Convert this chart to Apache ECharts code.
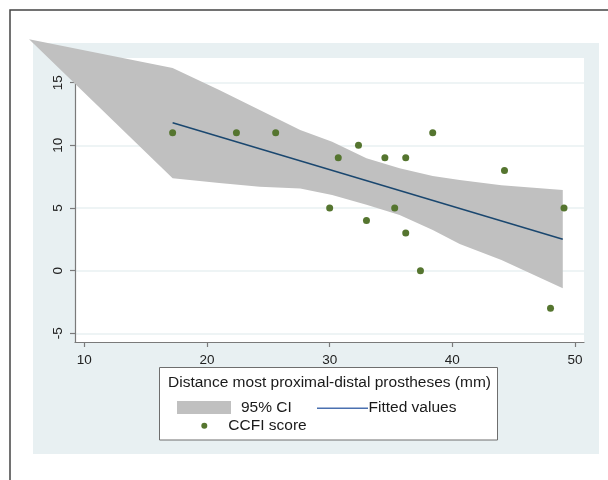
<!DOCTYPE html>
<html>
<head>
<meta charset="utf-8">
<script src="https://cdn.jsdelivr.net/npm/echarts@6/dist/echarts.min.js"></script>
<style>html,body{margin:0;padding:0;background:#fff;}#chart{width:608px;height:480px;}</style>
</head>
<body>
<div id="chart"></div>
<script>
// CCFI score scatter points [distance mm, score]
var distance = [17.2, 22.4, 25.6, 30.0, 30.7, 32.35, 33.0, 34.5, 35.3, 36.2, 36.2, 37.4, 38.4, 44.25, 48.0, 49.1];
var ccfi     = [11,   11,   11,   5,    9,    10,    4,    9,    5,    9,    3,    0,    11,   8,     -3,   5];
// Fitted values line end points
var fitX = [17.2, 49.0];
var fitY = [11.8, 2.5];
// 95% CI band (as drawn in reference)
var bandX     = [5.5,   17.2,  21.0,  24.3,  27.6,  30.2,  33.0, 35.7, 38.4, 40.6, 44.0, 49.0];
var bandUpper = [18.46, 16.17, 14.42, 12.82, 11.22, 10.29, 8.97, 8.17, 7.55, 7.24, 6.82, 6.44];
var bandLower = [18.46, 7.37,  7.0,   6.7,   6.55,  6.04,  5.25, 4.44, 3.24, 2.12, 0.85, -1.41];
// Tick labels
var xTicks = [10, 20, 30, 40, 50];
var yTicks = [-5, 0, 5, 10, 15];
var xTitle = 'Distance most proximal-distal prostheses (mm)';
var legendNames = ['95% CI', 'Fitted values', 'CCFI score'];

var FONT = '"Liberation Sans", Arial, sans-serif';
var chart = echarts.init(document.getElementById('chart'), null, {renderer: 'canvas'});

var scatterData = distance.map(function (d, i) { return [d, ccfi[i]]; });
var fitData = fitX.map(function (d, i) { return [d, fitY[i]]; });

var option = {
  backgroundColor: '#ffffff',
  animation: false,
  grid: {
    left: 75, right: 24, top: 58, bottom: 138,
    show: true, backgroundColor: '#ffffff', borderWidth: 0, z: -2
  },
  xAxis: {
    type: 'value', min: 9.243, max: 50.73, z: 0,
    name: xTitle, nameLocation: 'middle', nameGap: 33,
    nameTextStyle: {fontFamily: FONT, fontSize: 15.5, color: '#1a1a1a'},
    axisLine: {show: true, onZero: false, lineStyle: {color: '#7a7a7a', width: 1.2}},
    axisTick: {show: true, length: 5, customValues: xTicks, lineStyle: {color: '#7a7a7a', width: 1.2}},
    axisLabel: {customValues: xTicks, margin: 11, fontFamily: FONT, fontSize: 13.5, color: '#222'},
    splitLine: {show: false}
  },
  yAxis: {
    type: 'value', min: -5.694, max: 16.97, z: 0,
    axisLine: {show: true, onZero: false, lineStyle: {color: '#7a7a7a', width: 1.2}},
    axisTick: {show: true, length: 5, customValues: yTicks, lineStyle: {color: '#7a7a7a', width: 1.2}},
    axisLabel: {customValues: yTicks, rotate: 90, margin: 10, fontFamily: FONT, fontSize: 13.5, color: '#222'},
    splitLine: {show: true, lineStyle: {color: '#e8f0f2', width: 1.5}}
  },
  graphic: [
    {type: 'rect', z: -10, shape: {x: 33, y: 43, width: 566, height: 411}, style: {fill: '#e8f0f2'}},
    {type: 'polyline', z: -9, shape: {points: [[10, 490], [10, 10], [620, 10]]}, style: {stroke: '#444', lineWidth: 1.5, fill: null}},
    {type: 'rect', z: -1, shape: {x: 159.5, y: 367.5, width: 338, height: 72.5}, style: {fill: '#ffffff', stroke: '#6e6e6e', lineWidth: 1}},
    {type: 'rect', z: 0, shape: {x: 177, y: 401, width: 54, height: 13}, style: {fill: '#c0c0c0'}},
    {type: 'text', z: 0, x: 241, y: 408, style: {text: legendNames[0], font: '15.5px ' + FONT, fill: '#1a1a1a', verticalAlign: 'middle', align: 'left'}},
    {type: 'line', z: 0, shape: {x1: 317, y1: 408.3, x2: 368, y2: 408.3}, style: {stroke: '#4a70b0', lineWidth: 1.5}},
    {type: 'text', z: 0, x: 368.5, y: 408, style: {text: legendNames[1], font: '15.5px ' + FONT, fill: '#1a1a1a', verticalAlign: 'middle', align: 'left'}},
    {type: 'circle', z: 0, shape: {cx: 204.3, cy: 425.7, r: 3}, style: {fill: '#55752f'}},
    {type: 'text', z: 0, x: 228.3, y: 426, style: {text: legendNames[2], font: '15.5px ' + FONT, fill: '#1a1a1a', verticalAlign: 'middle', align: 'left'}}
  ],
  series: [
    {
      name: legendNames[0], type: 'custom', clip: false, z: 2,
      data: [0],
      renderItem: function (params, api) {
        var pts = [];
        for (var i = 0; i < bandX.length; i++) pts.push(api.coord([bandX[i], bandUpper[i]]));
        for (var j = bandX.length - 1; j >= 0; j--) pts.push(api.coord([bandX[j], bandLower[j]]));
        return {type: 'polygon', shape: {points: pts}, style: {fill: '#c0c0c0', stroke: null}};
      }
    },
    {
      name: legendNames[1], type: 'line', data: fitData, symbol: 'none', z: 3,
      lineStyle: {color: '#1a476f', width: 1.5}
    },
    {
      name: legendNames[2], type: 'scatter', data: scatterData, symbol: 'circle', symbolSize: 7, z: 4,
      itemStyle: {color: '#55752f', opacity: 1}
    }
  ]
};
chart.setOption(option);
</script>
</body>
</html>
